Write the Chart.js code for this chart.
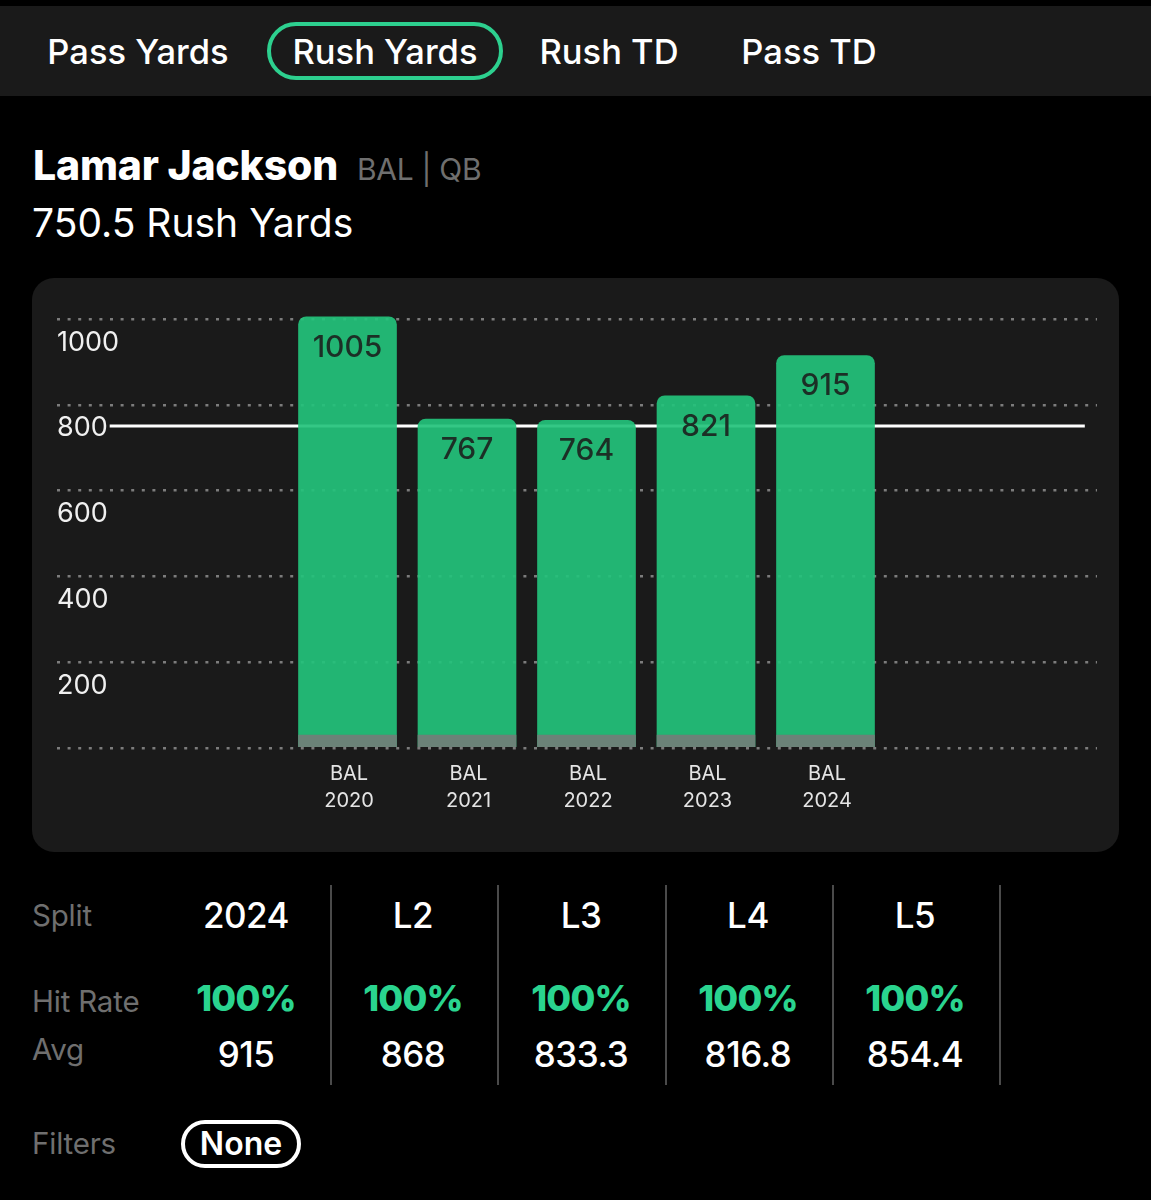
<!DOCTYPE html>
<html>
<head>
<meta charset="utf-8">
<script src="https://cdn.jsdelivr.net/npm/chart.js@4"></script>
<style>
  html, body { margin: 0; padding: 0; background: #000; }
  body { width: 1151px; height: 1200px; position: relative; overflow: hidden; font-family: Inter, sans-serif; color: #fff; }
  .topbar { position: absolute; left: 0; top: 6px; width: 1151px; height: 90px; background: #1a1a1a; }
  .panel { position: absolute; left: 32px; top: 278px; width: 1087px; height: 574px; background: #1a1a1a; border-radius: 22px; }
  canvas { position: absolute; left: 0; top: 0; }
  .t { position: absolute; white-space: nowrap; line-height: 1; transform: translateY(-50%); }
  .c { transform: translate(-50%, -50%); }
  .tab { font-size: 34.5px; font-weight: 500; }
  .grey { color: #6f6f6f; font-size: 29.5px; letter-spacing: -0.2px; }
  .stat { font-size: 35px; font-weight: 500; letter-spacing: -0.5px; }
  .hit { font-size: 36px; font-weight: 800; color: #2ad48f; letter-spacing: -0.8px; }
  .pill { position: absolute; box-sizing: border-box; }
  .divider { position: absolute; top: 885px; width: 2px; height: 200px; background: #4a4a4a; }
</style>
</head>
<body>
<div class="topbar"></div>
<div class="pill" style="left:267px;top:22px;width:236px;height:58px;border:4px solid #2dd08f;border-radius:29px"></div>
<div id="tabs"></div>

<div class="t" style="left:33px;top:165px;font-size:41px;font-weight:800;letter-spacing:-0.2px">Lamar Jackson</div>
<div class="t" style="left:357px;top:169px;font-size:30px;color:#6f6f6f;letter-spacing:-0.3px">BAL | QB</div>
<div class="t" style="left:32px;top:222px;font-size:39px">750.5 Rush Yards</div>

<div class="panel"><canvas id="chart" width="1087" height="574"></canvas></div>

<div class="t grey" style="left:32px;top:916px">Split</div>
<div class="t grey" style="left:32px;top:1002px">Hit Rate</div>
<div class="t grey" style="left:32px;top:1050px">Avg</div>
<div class="t grey" style="left:32px;top:1144px">Filters</div>
<div id="stats"></div>

<div class="pill" style="left:181px;top:1120px;width:120px;height:48px;border:4px solid #fff;border-radius:24px"></div>
<div class="t c" style="left:241px;top:1144px;font-size:32px;font-weight:600">None</div>

<script>
const seasons = [2020, 2021, 2022, 2023, 2024];
const teams = ["BAL", "BAL", "BAL", "BAL", "BAL"];
const rushYards = [1005, 767, 764, 821, 915];
const baseBand = [30, 30, 30, 30, 30];
const propLine = 750.5;
const yTicks = [0, 200, 400, 600, 800, 1000];

const tabNames = ["Pass Yards", "Rush Yards", "Rush TD", "Pass TD"];
const tabCenters = [138, 385, 609, 809];
const splits = ["2024", "L2", "L3", "L4", "L5"];
const hitRates = ["100%", "100%", "100%", "100%", "100%"];
const averages = ["915", "868", "833.3", "816.8", "854.4"];
const columnCenters = [246, 413, 581, 748, 915];
const dividers = [331, 498, 666, 833, 1000];

const addText = (parent, cls, x, y, text) => {
  const el = document.createElement("div");
  el.className = `t c ${cls}`;
  el.style.left = `${x}px`;
  el.style.top = `${y}px`;
  el.textContent = text;
  parent.appendChild(el);
};

const tabs = document.getElementById("tabs");
tabNames.forEach((name, i) => addText(tabs, "tab", tabCenters[i], 52, name));

const stats = document.getElementById("stats");
splits.forEach((split, i) => {
  addText(stats, "stat", columnCenters[i], 915, split);
  addText(stats, "hit", columnCenters[i], 998, hitRates[i]);
  addText(stats, "stat", columnCenters[i], 1054, averages[i]);
});
dividers.forEach((x) => {
  const el = document.createElement("div");
  el.className = "divider";
  el.style.left = `${x - 1}px`;
  stats.appendChild(el);
});

// value printed inside the top of each bar
const barValues = {
  id: "barValues",
  afterDatasetsDraw(chart) {
    const ctx = chart.ctx;
    const meta = chart.getDatasetMeta(0);
    ctx.save();
    ctx.fillStyle = "#1c2f26";
    ctx.font = "500 30px Inter";
    ctx.textAlign = "center";
    ctx.textBaseline = "middle";
    meta.data.forEach((bar, i) => ctx.fillText(String(rushYards[i]), bar.x, bar.y + 31));
    ctx.restore();
  },
};

new Chart(document.getElementById("chart"), {
  type: "bar",
  data: {
    datasets: [
      {
        data: seasons.map((s, i) => ({ x: s, y: rushYards[i] })),
        backgroundColor: "rgba(35,194,123,0.92)",
        borderRadius: { topLeft: 8, topRight: 8, bottomLeft: 0, bottomRight: 0 },
        barThickness: 98,
        grouped: false,
        clip: false,
        order: 1,
      },
      {
        data: seasons.map((s, i) => ({ x: s, y: baseBand[i] })),
        backgroundColor: "rgba(112,128,120,0.95)",
        barThickness: 98,
        grouped: false,
        order: 0,
      },
      {
        type: "line",
        data: [{ x: 2018.01, y: propLine }, { x: 2026.17, y: propLine }],
        borderColor: "#fff",
        borderWidth: 3,
        pointRadius: 0,
        order: 2,
      },
    ],
  },
  options: {
    responsive: false,
    animation: false,
    layout: { padding: { left: 25, right: 22, top: 41, bottom: 0 } },
    plugins: { legend: { display: false }, tooltip: { enabled: false } },
    scales: {
      x: {
        type: "linear",
        offset: false,
        min: 2017.569,
        max: 2026.272,
        afterFit: (scale) => { scale.height = 104; },
        border: { display: false },
        grid: { display: false },
        ticks: {
          stepSize: 1,
          autoSkip: false,
          maxRotation: 0,
          includeBounds: false,
          padding: 4,
          labelOffset: 1.5,
          color: "#e4e4e4",
          font: { family: "Inter", size: 20, lineHeight: 1.35 },
          callback: (value) => {
            const i = seasons.indexOf(value);
            return i < 0 ? "" : [teams[i], String(seasons[i])];
          },
        },
      },
      y: {
        min: 0,
        max: 1000,
        afterBuildTicks: (scale) => { scale.ticks = yTicks.map((value) => ({ value })); },
        border: { display: false, dash: [3, 7.6] },
        grid: { color: "#7c7c7c", lineWidth: 2.5, drawTicks: false },
        ticks: {
          mirror: true,
          padding: 0,
          labelOffset: 23.5,
          color: "#f0f0f0",
          font: { family: "Inter", size: 27 },
          callback: (value) => (value === 0 ? "" : String(value)),
        },
      },
    },
  },
  plugins: [barValues],
});
</script>
</body>
</html>
